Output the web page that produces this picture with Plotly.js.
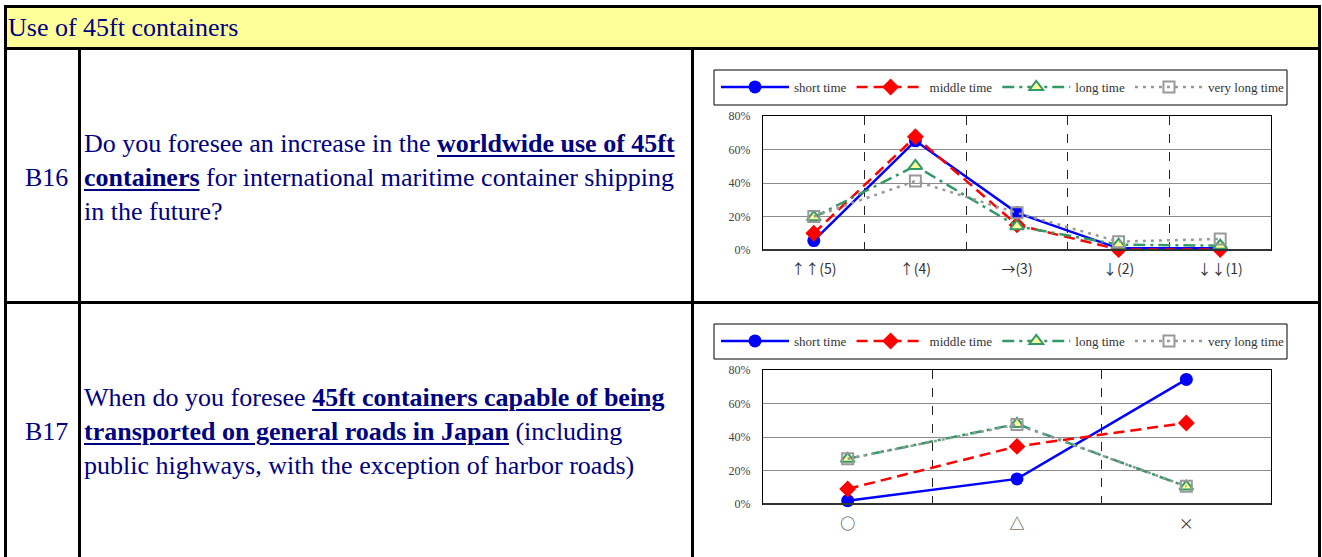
<!DOCTYPE html>
<html>
<head>
<meta charset="utf-8">
<script src="https://cdn.plot.ly/plotly-3.0.1.min.js"></script>
<style>
  html, body { margin:0; padding:0; background:#fff; width:1322px; height:557px; overflow:hidden; }
  .blk { position:absolute; background:#000; }
  .txt { position:absolute; font-family:'Liberation Serif','Times New Roman',serif; color:#000080; font-size:26px; line-height:34px; white-space:nowrap; }
  .txt b { text-decoration:underline; text-decoration-thickness:2px; text-underline-offset:3px; }
  .chart { position:absolute; }
</style>
</head>
<body>
<!-- table frame -->
<div style="position:absolute;left:7px;top:8px;width:1311px;height:39px;background:#FFFF99;"></div>
<div class="blk" style="left:4px;top:5px;width:1317px;height:3px;"></div>
<div class="blk" style="left:4px;top:5px;width:3px;height:560px;"></div>
<div class="blk" style="left:1318px;top:5px;width:3px;height:560px;"></div>
<div class="blk" style="left:4px;top:47px;width:1317px;height:3px;"></div>
<div class="blk" style="left:78px;top:50px;width:3px;height:515px;"></div>
<div class="blk" style="left:691px;top:50px;width:3px;height:515px;"></div>
<div class="blk" style="left:4px;top:301px;width:1317px;height:3px;"></div>

<div class="txt" style="left:8px;top:11px;">Use of 45ft containers</div>

<div class="txt" style="left:25px;top:161px;">B16</div>
<div class="txt" style="left:84px;top:127px;">Do you foresee an increase in the <b>worldwide use of 45ft</b><br><b>containers</b> for international maritime container shipping<br>in the future?</div>

<div class="txt" style="left:25px;top:415px;">B17</div>
<div class="txt" style="left:84px;top:381px;">When do you foresee <b>45ft containers capable of being</b><br><b>transported on general roads in Japan</b> (including<br>public highways, with the exception of harbor roads)</div>

<div id="c1" class="chart" style="left:694px;top:50px;width:624px;height:252px;"></div>
<div id="c2" class="chart" style="left:694px;top:304px;width:624px;height:252px;"></div>

<script>
// ---- data ----
const seriesNames = ['short time', 'middle time', 'long time', 'very long time'];

const cats1 = ['↑↑(5)', '↑(4)', '→(3)', '↓(2)', '↓↓(1)'];
const short1  = [0.056, 0.652, 0.222, 0.010, 0.010];
const middle1 = [0.100, 0.676, 0.150, 0.003, 0.003];
const long1   = [0.196, 0.502, 0.142, 0.032, 0.026];
const vlong1  = [0.200, 0.412, 0.222, 0.050, 0.066];

const cats2 = ['○', '△', '×'];
const short2  = [0.020, 0.150, 0.744];
const middle2 = [0.090, 0.344, 0.484];
const long2   = [0.270, 0.478, 0.104];
const vlong2  = [0.270, 0.474, 0.106];

const yTicks = [0, 0.2, 0.4, 0.6, 0.8];

// ---- styles ----
const FONT = "'Liberation Serif','Times New Roman',serif";
const CJK = "'Noto Sans CJK JP', sans-serif";
const styles = [
  {line:{color:'#0000FF', width:2.5, dash:'solid'}, marker:{symbol:'circle', size:13, color:'#0000FF'}},
  {line:{color:'#FF0000', width:2.5, dash:'11px,6px'}, marker:{symbol:'diamond', size:13, color:'#FF0000'}},
  {line:{color:'#339966', width:2.5, dash:'12px,5px,3px,5px'}, marker:{symbol:'triangle-up', size:12, color:'#FFFF99', line:{color:'#339966', width:2}}},
  {line:{color:'#999999', width:2.5, dash:'3px,5px'}, marker:{symbol:'square', size:11, color:'rgba(255,255,255,0)', line:{color:'#999999', width:2}}}
];

function makeTraces(cats, arrs) {
  return arrs.map((ys, i) => ({
    type:'scatter', mode:'lines+markers', x:cats, y:ys, name:seriesNames[i],
    line:styles[i].line, marker:styles[i].marker, cliponaxis:false
  }));
}

function makeLayout(n, tickFont, standoff) {
  const W = 624, H = 252, L = 69, R = 47, T = 66, B = 52;
  const pw = W - L - R, ph = H - T - B;
  const px = v => (v - L) / pw;
  const py = v => (H - B - v) / ph;
  return {
    width: W, height: H,
    margin: {l:L, r:R, t:T, b:B, pad:0},
    paper_bgcolor:'rgba(0,0,0,0)', plot_bgcolor:'#fff',
    showlegend:true,
    legend:{orientation:'h', x:px(22), xanchor:'left', y:py(37), yanchor:'middle',
            font:{family:FONT, size:13, color:'#333'}, itemwidth:68,
            bgcolor:'rgba(0,0,0,0)', borderwidth:0, traceorder:'normal', itemclick:false},
    xaxis:{type:'category', range:[-0.5, n-0.5], tickson:'boundaries', showgrid:true,
           gridcolor:'#222', griddash:'dash', gridwidth:1, ticks:'', showline:true,
           linecolor:'#000', linewidth:1, mirror:true, tickfont:tickFont, ticklabelstandoff:standoff,
           fixedrange:true},
    yaxis:{range:[0, 0.8], tickvals:yTicks, tickformat:'.0%', showgrid:true, gridcolor:'#8c8c8c',
           gridwidth:1, zeroline:false, ticks:'', showline:true, linecolor:'#000', linewidth:1,
           mirror:true, tickfont:{family:FONT, size:12, color:'#444'}, ticklabelstandoff:9,
           fixedrange:true},
    shapes:[
      {type:'rect', xref:'paper', yref:'paper', x0:px(20), x1:px(593), y0:py(55), y1:py(20),
       line:{color:'#000', width:1}, fillcolor:'rgba(0,0,0,0)', layer:'below'},
      {type:'line', xref:'paper', yref:'paper', x0:0, x1:1, y0:0, y1:0,
       line:{color:'#333', width:2}}
    ]
  };
}

const cfg = {staticPlot:true, displayModeBar:false};
Plotly.newPlot('c1', makeTraces(cats1, [short1, middle1, long1, vlong1]),
  makeLayout(cats1.length, {family:CJK, size:14, color:'#333'}, 6), cfg);
Plotly.newPlot('c2', makeTraces(cats2, [short2, middle2, long2, vlong2]),
  makeLayout(cats2.length, {family:CJK, size:15, color:'#333'}, 6), cfg);
</script>
</body>
</html>
